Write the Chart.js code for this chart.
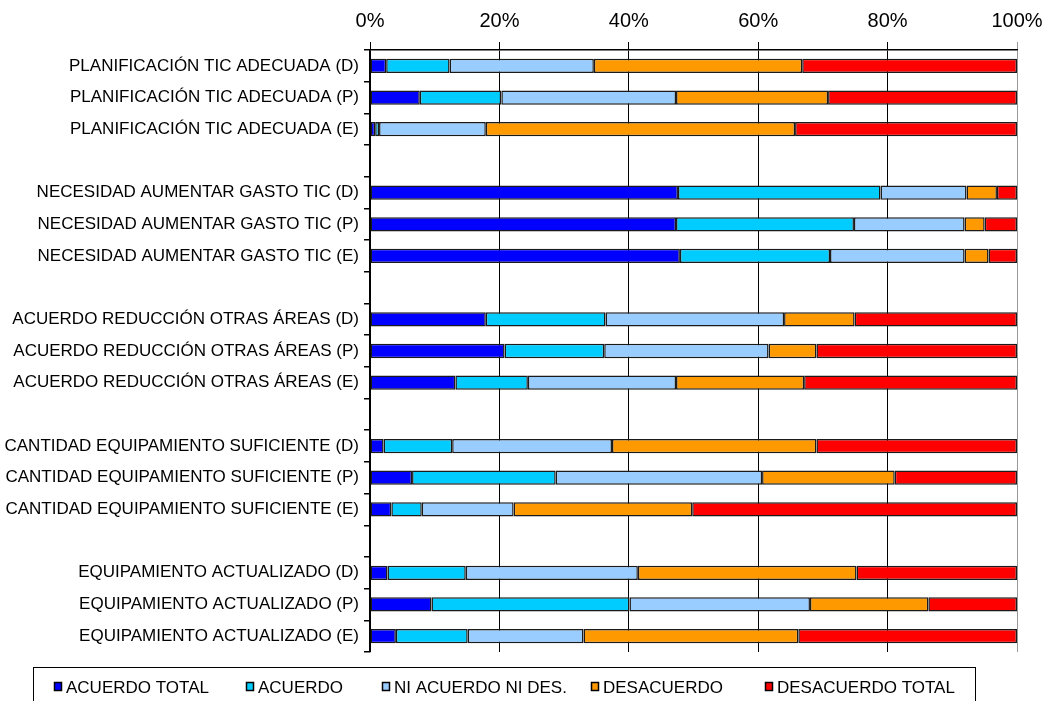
<!DOCTYPE html>
<html>
<head>
<meta charset="utf-8">
<script src="https://cdn.jsdelivr.net/npm/chart.js@4.4.1/dist/chart.umd.min.js"></script>
<style>
  html, body { margin: 0; padding: 0; background: #fff; }
  #wrap { width: 1050px; height: 701px; position: relative; }
</style>
</head>
<body>
<div id="wrap"><canvas id="c" width="1050" height="701"></canvas></div>
<script>
// Row labels (empty strings separate the five groups)
const categories = [
  'PLANIFICACIÓN TIC ADECUADA (D)',
  'PLANIFICACIÓN TIC ADECUADA (P)',
  'PLANIFICACIÓN TIC ADECUADA (E)',
  '',
  'NECESIDAD AUMENTAR GASTO TIC (D)',
  'NECESIDAD AUMENTAR GASTO TIC (P)',
  'NECESIDAD AUMENTAR GASTO TIC (E)',
  '',
  'ACUERDO REDUCCIÓN OTRAS ÁREAS (D)',
  'ACUERDO REDUCCIÓN OTRAS ÁREAS (P)',
  'ACUERDO REDUCCIÓN OTRAS ÁREAS (E)',
  '',
  'CANTIDAD EQUIPAMIENTO SUFICIENTE (D)',
  'CANTIDAD EQUIPAMIENTO SUFICIENTE (P)',
  'CANTIDAD EQUIPAMIENTO SUFICIENTE (E)',
  '',
  'EQUIPAMIENTO ACTUALIZADO (D)',
  'EQUIPAMIENTO ACTUALIZADO (P)',
  'EQUIPAMIENTO ACTUALIZADO (E)'
];

const seriesNames = ['ACUERDO TOTAL', 'ACUERDO', 'NI ACUERDO NI DES.', 'DESACUERDO', 'DESACUERDO TOTAL'];

// Percentages per row (null = spacer row)
const acuerdoTotal    = [2.5, 7.7, 0.8, null, 47.6, 47.3, 47.9, null, 17.9, 20.8, 13.2, null, 2.1, 6.5, 3.3, null, 2.7, 9.5, 4.0];
const acuerdo         = [9.8, 12.6, 0.6, null, 31.3, 27.5, 23.2, null, 18.5, 15.4, 11.2, null, 10.6, 22.2, 4.7, null, 12.1, 30.6, 11.1];
const niAcuerdoNiDes  = [22.3, 27.0, 16.5, null, 13.3, 17.1, 20.8, null, 27.6, 25.4, 22.9, null, 24.7, 31.9, 14.2, null, 26.6, 27.9, 17.9];
const desacuerdo      = [32.2, 23.5, 47.8, null, 4.7, 3.1, 3.7, null, 10.9, 7.4, 19.8, null, 31.6, 20.5, 27.6, null, 33.8, 18.3, 33.2];
const desacuerdoTotal = [33.2, 29.2, 34.3, null, 3.1, 5.0, 4.4, null, 25.1, 31.0, 32.9, null, 31.0, 18.9, 50.2, null, 24.8, 13.7, 33.8];

const xTicks = [0, 20, 40, 60, 80, 100];

const colors = ['#0000FF', '#00CCFF', '#99CCFF', '#FF9900', '#FF0000'];
const seriesData = [acuerdoTotal, acuerdo, niAcuerdoNiDes, desacuerdo, desacuerdoTotal];

const FONT = '"Liberation Sans", Arial, sans-serif';

// Boxed legend drawn beneath the plot
const boxedLegend = {
  id: 'boxedLegend',
  afterDraw(chart) {
    const ctx = chart.ctx;
    ctx.save();
    ctx.strokeStyle = '#000';
    ctx.lineWidth = 1;
    ctx.strokeRect(33.5, 667.5, 942, 40);
    const xs = [54, 246, 382, 591, 765];
    const yc = 687;
    ctx.font = '17px ' + FONT;
    ctx.textBaseline = 'middle';
    ctx.textAlign = 'left';
    chart.data.datasets.forEach((ds, i) => {
      ctx.fillStyle = ds.backgroundColor;
      ctx.fillRect(xs[i], yc - 5, 7, 8);
      ctx.strokeStyle = '#000';
      ctx.lineWidth = 1.5;
      ctx.strokeRect(xs[i] + 0.5, yc - 4.5, 7, 8);
      ctx.fillStyle = '#000';
      ctx.fillText(ds.label, xs[i] + 12, yc + 1);
    });
    ctx.restore();
  }
};

new Chart(document.getElementById('c'), {
  type: 'bar',
  data: {
    labels: categories,
    datasets: seriesNames.map((name, i) => ({
      label: name,
      data: seriesData[i],
      backgroundColor: colors[i],
      borderColor: '#1a1a1a',
      borderWidth: 1.5,
      borderSkipped: false,
      barPercentage: 0.45,
      categoryPercentage: 1.0
    }))
  },
  options: {
    indexAxis: 'y',
    responsive: false,
    animation: false,
    layout: { padding: { left: 0, right: 33, top: 0, bottom: 49 } },
    plugins: {
      legend: { display: false },
      tooltip: { enabled: false }
    },
    scales: {
      x: {
        position: 'top',
        stacked: true,
        min: 0,
        max: 100,
        afterBuildTicks: (scale) => { scale.ticks = xTicks.map(v => ({ value: v })); },
        afterFit: (scale) => {
          scale.height = 50;
          scale.paddingLeft = 0;
          scale.paddingRight = 0;
        },
        ticks: {
          callback: (v) => v + '%',
          color: '#000',
          font: { family: FONT, size: 20 },
          padding: 9
        },
        grid: {
          color: (c) => (c.tick && c.tick.value === 100 ? '#999' : '#000'),
          lineWidth: 1,
          tickLength: 8
        },
        border: { display: true, color: '#000', width: 1.5 }
      },
      y: {
        stacked: true,
        afterFit: (scale) => { scale.width = 370; },
        ticks: {
          color: '#000',
          font: { family: FONT, size: 17 },
          padding: 5,
          autoSkip: false
        },
        grid: {
          drawOnChartArea: false,
          drawTicks: true,
          tickLength: 6,
          offset: true,
          color: '#000',
          lineWidth: 1.5
        },
        border: { display: true, color: '#000', width: 1.5 }
      }
    }
  },
  plugins: [boxedLegend]
});
</script>
</body>
</html>
